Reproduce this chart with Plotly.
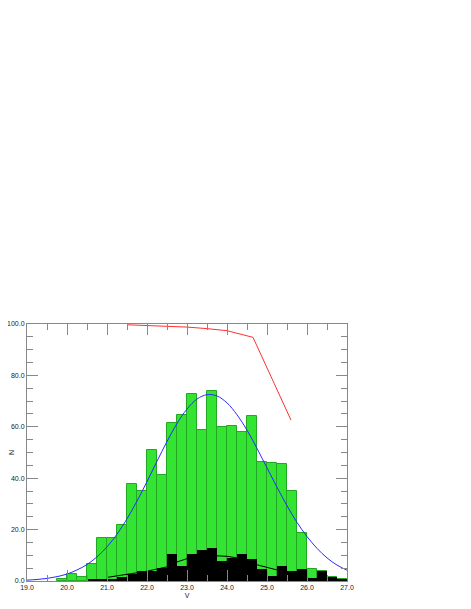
import plotly.graph_objects as go

# histogram bins (left edges, width 0.25)
bin_left = [19.75, 20.0, 20.25, 20.5, 20.75, 21.0, 21.25, 21.5, 21.75, 22.0,
            22.25, 22.5, 22.75, 23.0, 23.25, 23.5, 23.75, 24.0, 24.25, 24.5,
            24.75, 25.0, 25.25, 25.5, 25.75, 26.0, 26.25, 26.5, 26.75]
green_counts = [0.9, 2.8, 1.75, 6.7, 16.8, 16.8, 21.9, 37.9, 34.9, 51.1,
                41.1, 61.3, 64.5, 72.6, 58.7, 73.9, 60.1, 60.5, 57.9, 64.3,
                46.3, 46.1, 45.4, 34.9, 18.8, 4.7, 3.7, 1.6, 0.9]
black_counts = [0.0, 0.0, 0.0, 0.9, 0.5, 0.9, 1.75, 2.8, 3.8, 4.0,
                5.0, 10.7, 5.8, 10.7, 11.9, 12.8, 7.8, 8.9, 10.6, 8.7,
                4.75, 1.8, 5.8, 3.7, 4.75, 1.1, 3.7, 1.6, 0.9]

# fitted curve (blue)
fit_x = [19.0, 19.25, 19.5, 19.75, 20.0, 20.25, 20.5, 20.75, 21.0, 21.25,
         21.5, 21.75, 22.0, 22.25, 22.5, 22.75, 23.0, 23.25, 23.5, 23.75,
         24.0, 24.25, 24.5, 24.75, 25.0, 25.25, 25.5, 25.75, 26.0, 26.25,
         26.5, 26.75, 27.0]
fit_y = [0.33, 0.59, 1.0, 1.7, 2.7, 4.3, 6.4, 9.4, 13.3, 18.2,
         24.2, 31.1, 38.7, 46.6, 54.3, 61.3, 66.9, 70.8, 72.5, 72.0,
         69.3, 64.7, 58.7, 51.6, 44.0, 36.5, 29.3, 22.8, 17.3, 12.7,
         9.0, 6.2, 4.2]

# black line over the black histogram
sub_x = [21.0, 21.5, 22.0, 22.5, 22.75, 23.0, 23.5, 23.75, 24.0, 24.25,
         24.5, 24.75, 25.25, 25.5, 26.0, 26.25]
sub_y = [1.4, 2.6, 3.8, 5.5, 7.4, 8.7, 9.7, 9.8, 9.6, 9.0,
         7.8, 6.3, 4.3, 3.3, 1.1, 0.6]

# completeness (red)
comp_x = [21.5, 22.0, 22.5, 23.0, 23.5, 24.0, 24.65, 25.6]
comp_y = [99.7, 99.5, 99.2, 98.8, 98.2, 97.4, 94.8, 62.6]

centers = [b + 0.125 for b in bin_left]

fig = go.Figure()
fig.add_trace(go.Bar(
    x=centers, y=green_counts, width=0.25,
    marker=dict(color="#33E433", line=dict(color="#22A822", width=1)),
))
fig.add_trace(go.Bar(
    x=centers, y=black_counts, width=0.25,
    marker=dict(color="black", line=dict(width=0)),
))
fig.add_trace(go.Scatter(
    x=fit_x, y=fit_y, mode="lines", line=dict(color="#2A2AFF", width=1, shape="spline"),
))
fig.add_trace(go.Scatter(
    x=sub_x, y=sub_y, mode="lines", line=dict(color="black", width=1),
))
fig.add_trace(go.Scatter(
    x=comp_x, y=comp_y, mode="lines", line=dict(color="#FF3030", width=1),
))

axis_common = dict(
    showline=True, linecolor="#888888", linewidth=1,
    mirror="allticks", ticks="inside", tickcolor="#888888",
    showgrid=False, zeroline=False, tickformat=".1f", automargin=False,
    tickfont=dict(size=7, color="#222222"),
)

# page body adds 8px offset, so the figure is a bit smaller than the window
fig.update_layout(
    width=463, height=601,
    barmode="overlay", bargap=0,
    showlegend=False,
    paper_bgcolor="white", plot_bgcolor="white",
    font=dict(family="Liberation Sans, Arial, sans-serif", color="#222222", size=7),
    margin=dict(l=19, r=124, t=316, b=28),
    xaxis=dict(range=[19, 27], dtick=1, ticklen=11,
               minor=dict(ticks="inside", dtick=0.5, ticklen=6, tickcolor="#888888"),
               title=dict(text="V", font=dict(size=7), standoff=2),
               **axis_common),
    yaxis=dict(range=[0, 100], dtick=20, ticklen=11,
               minor=dict(ticks="inside", dtick=5, ticklen=6, tickcolor="#888888"),
               title=dict(text="N", font=dict(size=7), standoff=6),
               **axis_common),
)

fig.write_html("out.html")
